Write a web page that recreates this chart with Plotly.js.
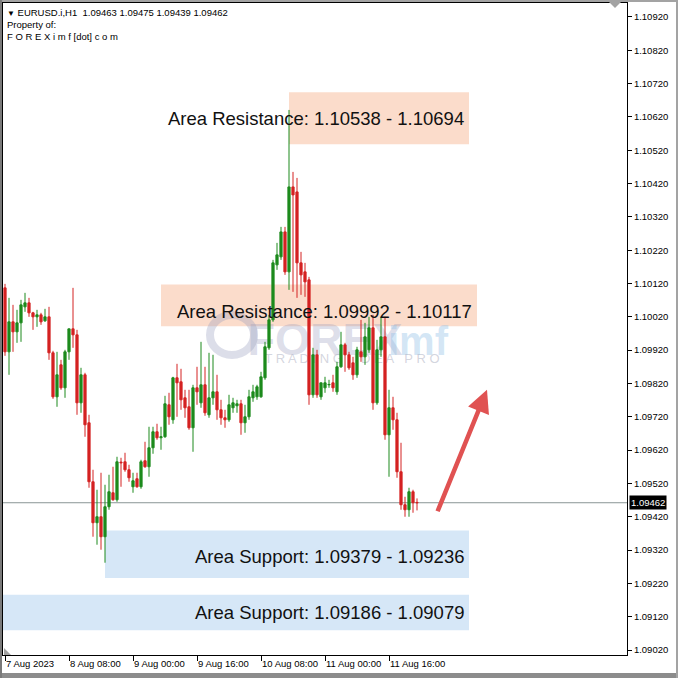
<!DOCTYPE html>
<html><head><meta charset="utf-8">
<script src="https://cdn.plot.ly/plotly-3.0.1.min.js"></script>
<style>html,body{margin:0;padding:0;background:#fff;}#chart{width:678px;height:678px;}</style>
</head><body><div id="chart"></div>
<script>
// ---- data (EURUSD.i, H1) ----
const startTime = '2023-08-07 16:00';
const openP = [1.10107,1.09915,1.10005,1.09975,1.10002,1.10050,1.10062,1.10032,1.10020,1.10026,
1.10008,1.10020,1.09912,1.09780,1.09876,1.09807,1.09915,1.09984,1.09966,1.09762,
1.09846,1.09702,1.09525,1.09402,1.09420,1.09360,1.09450,1.09492,1.09471,1.09584,
1.09585,1.09561,1.09510,1.09534,1.09510,1.09588,1.09570,1.09627,1.09675,1.09657,
1.09660,1.09756,1.09711,1.09837,1.09825,1.09777,1.09750,1.09687,1.09807,1.09762,
1.09816,1.09726,1.09777,1.09795,1.09741,1.09717,1.09711,1.09747,1.09753,1.09759,
1.09702,1.09720,1.09777,1.09780,1.09780,1.09837,1.09927,1.10011,1.10176,1.10200,
1.10275,1.10155,1.10410,1.10395,1.10182,1.10155,1.10131,1.09786,1.09906,1.09780,
1.09807,1.09816,1.09822,1.09795,1.09870,1.09936,1.09906,1.09882,1.09846,1.09915,
1.09900,1.09921,1.09987,1.09762,1.09921,1.09960,1.09666,1.09747,1.09711,1.09555,
1.09456,1.09441,1.09495,1.09463];
const highP = [1.10119,1.10077,1.10056,1.10041,1.10071,1.10092,1.10077,1.10035,1.10041,1.10032,
1.10044,1.10050,1.09918,1.09915,1.09891,1.09921,1.09984,1.10107,1.09981,1.09867,
1.09852,1.09726,1.09561,1.09501,1.09552,1.09516,1.09546,1.09570,1.09600,1.09597,
1.09612,1.09576,1.09552,1.09552,1.09591,1.09645,1.09690,1.09690,1.09699,1.09690,
1.09783,1.09792,1.09840,1.09879,1.09864,1.09801,1.09801,1.09816,1.09870,1.09945,
1.09870,1.09912,1.09906,1.09846,1.09771,1.09741,1.09786,1.09777,1.09771,1.09771,
1.09756,1.09801,1.09816,1.09816,1.09855,1.09945,1.10026,1.10191,1.10242,1.10290,
1.10290,1.10641,1.10455,1.10437,1.10215,1.10182,1.10140,1.09927,1.09921,1.09822,
1.09840,1.09831,1.09846,1.09885,1.09975,1.09942,1.09915,1.09900,1.09930,1.10011,
1.10002,1.10020,1.10026,1.09951,1.10020,1.10020,1.09801,1.09780,1.09732,1.09642,
1.09480,1.09507,1.09501,1.09475];
const lowP = [1.09903,1.09846,1.09915,1.09942,1.09945,1.10035,1.10020,1.09981,1.09990,1.09996,
1.10005,1.09891,1.09774,1.09750,1.09801,1.09777,1.09891,1.09927,1.09726,1.09732,
1.09660,1.09507,1.09360,1.09336,1.09321,1.09282,1.09441,1.09468,1.09465,1.09510,
1.09555,1.09525,1.09492,1.09507,1.09504,1.09567,1.09540,1.09609,1.09651,1.09621,
1.09657,1.09696,1.09699,1.09720,1.09741,1.09717,1.09681,1.09615,1.09756,1.09747,
1.09723,1.09717,1.09756,1.09711,1.09696,1.09687,1.09705,1.09732,1.09732,1.09666,
1.09672,1.09711,1.09765,1.09771,1.09777,1.09831,1.09921,1.10005,1.10161,1.10191,
1.10146,1.10101,1.10095,1.10077,1.10086,1.10080,1.09756,1.09777,1.09777,1.09771,
1.09792,1.09807,1.09795,1.09786,1.09867,1.09855,1.09861,1.09831,1.09837,1.09885,
1.09876,1.09912,1.09741,1.09756,1.09900,1.09651,1.09540,1.09681,1.09537,1.09441,
1.09420,1.09420,1.09432,1.09439];
const closeP = [1.09915,1.10005,1.09975,1.10002,1.10056,1.10062,1.10032,1.10020,1.10026,1.10005,
1.10020,1.09912,1.09780,1.09846,1.09807,1.09915,1.09984,1.09966,1.09762,1.09846,
1.09696,1.09525,1.09402,1.09420,1.09360,1.09450,1.09495,1.09471,1.09585,1.09582,
1.09561,1.09537,1.09528,1.09510,1.09585,1.09570,1.09627,1.09675,1.09657,1.09660,
1.09759,1.09720,1.09837,1.09822,1.09771,1.09747,1.09687,1.09807,1.09795,1.09816,
1.09732,1.09777,1.09795,1.09741,1.09717,1.09711,1.09756,1.09762,1.09759,1.09702,
1.09720,1.09780,1.09795,1.09810,1.09840,1.09930,1.10011,1.10182,1.10206,1.10275,
1.10155,1.10410,1.10386,1.10182,1.10146,1.10125,1.09786,1.09906,1.09786,1.09822,
1.09822,1.09817,1.09807,1.09870,1.09936,1.09906,1.09867,1.09846,1.09921,1.09900,
1.09960,1.09987,1.09762,1.09921,1.09960,1.09666,1.09747,1.09711,1.09555,1.09456,
1.09441,1.09495,1.09462,1.09462];
const tickTimes = ['2023-08-07 16:00','2023-08-08 08:00','2023-08-09 00:00','2023-08-09 16:00','2023-08-10 08:00','2023-08-11 00:00','2023-08-11 16:00'];
const tickText = ['7 Aug 2023','8 Aug 08:00','9 Aug 00:00','9 Aug 16:00','10 Aug 08:00','11 Aug 00:00','11 Aug 16:00'];
const zoneLow = [1.10538, 1.09992, 1.09236, 1.09079];
const zoneHigh = [1.10694, 1.10117, 1.09379, 1.09186];
const zoneText = ['Area Resistance: 1.10538 - 1.10694','Area Resistance: 1.09992 - 1.10117','Area Support: 1.09379 - 1.09236','Area Support: 1.09186 - 1.09079'];
const zoneKind = ['res','res','sup','sup'];
const lastQuote = {open:1.09463, high:1.09475, low:1.09439, close:1.09462};
const symbolName = 'EURUSD.i,H1';

// ---- hourly timestamps for the bars ----
function fmt(d){const p=n=>String(n).padStart(2,'0');return d.getUTCFullYear()+'-'+p(d.getUTCMonth()+1)+'-'+p(d.getUTCDate())+' '+p(d.getUTCHours())+':'+p(d.getUTCMinutes());}
const t0 = Date.UTC(2023,7,7,16,0);
const times = openP.map((_,i)=>fmt(new Date(t0 + i*3600000)));

// ---- layout geometry (plot area px: x 3..627, y 3..655) ----
const PX = px => (px-3)/624, PY = py => (655-py)/652;
const zoneX0 = [PX(289), PX(161), PX(105), 0];
const zoneX1 = [PX(469), PX(477), PX(469), PX(469)];
const zoneTextX = [PX(466), PX(474), PX(466), PX(466)];
const zoneTextShift = [0, -6, -2, 0];
const zoneFill = {res:'#fbdccb', sup:'#d6e7f7'};

const shapes = [];
const annotations = [];
zoneLow.forEach((lo,i)=>{
  shapes.push({type:'rect', xref:'paper', yref:'y', x0:zoneX0[i], x1:zoneX1[i], y0:lo, y1:zoneHigh[i],
    fillcolor:zoneFill[zoneKind[i]], line:{width:0}, layer:'below'});
  annotations.push({xref:'paper', yref:'y', x:zoneTextX[i], y:(lo+zoneHigh[i])/2, yshift:zoneTextShift[i],
    xanchor:'right', yanchor:'middle', showarrow:false, text:zoneText[i],
    font:{family:'Liberation Sans, Arial, sans-serif', size:18.5, color:'#111'}});
});
// watermark (between rects and candles)
const wm = 'rgba(150,155,188,0.33)';
shapes.push({type:'circle', xref:'paper', yref:'paper', x0:PX(210), x1:PX(254), y0:PY(355), y1:PY(315),
  line:{color:wm, width:8}, fillcolor:'rgba(0,0,0,0)', layer:'between'});
shapes.push({type:'rect', xref:'paper', yref:'paper', x0:PX(254), x1:PX(396), y0:PY(356), y1:PY(314),
  line:{width:0}, fillcolor:'rgba(0,0,0,0)', layer:'between',
  label:{text:'FOREX', textposition:'middle center', font:{family:'Liberation Sans, Arial', size:45, color:wm, weight:'bold'}}});
shapes.push({type:'rect', xref:'paper', yref:'paper', x0:PX(392), x1:PX(444), y0:PY(356), y1:PY(318),
  line:{width:0}, fillcolor:'rgba(0,0,0,0)', layer:'between',
  label:{text:'imf', textposition:'middle center', font:{family:'Liberation Sans, Arial', size:40, color:'rgba(150,195,232,0.42)', weight:'bold'}}});
shapes.push({type:'rect', xref:'paper', yref:'paper', x0:PX(260), x1:PX(444), y0:PY(366), y1:PY(348),
  line:{width:0}, fillcolor:'rgba(0,0,0,0)', layer:'between',
  label:{text:'T R A D I N G   I D E A   P R O', textposition:'middle center', font:{family:'Liberation Sans, Arial', size:13, color:'rgba(175,178,195,0.55)'}}});
// current price line
shapes.push({type:'line', xref:'paper', yref:'y', x0:0, x1:1, y0:lastQuote.close, y1:lastQuote.close,
  line:{color:'#8a9696', width:1}, layer:'between'});
// frame & markers
const grey = '#a3a3a3';
shapes.push({type:'rect', xref:'paper', yref:'paper', x0:-0.01, x1:1.09, y0:PY(2), y1:PY(-1), fillcolor:grey, line:{width:0}, layer:'above'});
shapes.push({type:'rect', xref:'paper', yref:'paper', x0:-0.01, x1:1.09, y0:PY(680), y1:PY(673), fillcolor:'#8c8c8c', line:{width:0}, layer:'above'});
shapes.push({type:'rect', xref:'paper', yref:'paper', x0:PX(-1), x1:PX(2), y0:-0.05, y1:1.01, fillcolor:'#7a7a7a', line:{width:0}, layer:'above'});
shapes.push({type:'rect', xref:'paper', yref:'paper', x0:PX(676), x1:PX(680), y0:-0.05, y1:1.01, fillcolor:grey, line:{width:0}, layer:'above'});
shapes.push({type:'path', xref:'paper', yref:'paper', path:`M ${PX(608)},${PY(1)} L ${PX(622)},${PY(1)} L ${PX(615)},${PY(8)} Z`, fillcolor:grey, line:{width:0}, layer:'above'});
shapes.push({type:'path', xref:'paper', yref:'paper', path:`M ${PX(4)},${PY(648)} L ${PX(4)},${PY(655)} L ${PX(11)},${PY(655)} Z`, fillcolor:grey, line:{width:0}, layer:'above'});

// header texts
const hf = {family:'Liberation Sans, Arial, sans-serif', size:9.5, color:'#000'};
annotations.push({xref:'paper', yref:'paper', x:PX(5), y:PY(12), xanchor:'left', yanchor:'middle', showarrow:false, font:hf,
  text:'<span style="font-size:8px">▼</span> '+symbolName+'  '+[lastQuote.open,lastQuote.high,lastQuote.low,lastQuote.close].map(v=>v.toFixed(5)).join(' ')});
annotations.push({xref:'paper', yref:'paper', x:PX(5), y:PY(24), xanchor:'left', yanchor:'middle', showarrow:false, font:hf, text:'Property of:'});
annotations.push({xref:'paper', yref:'paper', x:PX(5), y:PY(36), xanchor:'left', yanchor:'middle', showarrow:false, font:hf, text:'F O R E X i m f [dot] c o m'});
// price label
annotations.push({xref:'paper', yref:'y', x:1, y:lastQuote.close, xanchor:'left', yanchor:'middle', xshift:2, showarrow:false,
  text:lastQuote.close.toFixed(5), bgcolor:'#000', borderpad:1, font:{family:'Liberation Sans, Arial', size:9.5, color:'#fff'}});
// red arrow
annotations.push({xref:'x', yref:'y', axref:'x', ayref:'y', x:'2023-08-12 16:30', y:1.09801, ax:'2023-08-12 04:00', ay:1.09432,
  text:'', showarrow:true, arrowhead:2, arrowsize:1, arrowwidth:4.5, arrowcolor:'#e05252', standoff:0, startstandoff:0});

const trace = {
  type:'candlestick', x:times, open:openP, high:highP, low:lowP, close:closeP,
  increasing:{line:{color:'#1d8a1d', width:1}, fillcolor:'#1d8a1d'},
  decreasing:{line:{color:'#d42222', width:1}, fillcolor:'#d42222'},
  whiskerwidth:0, hoverinfo:'skip', showlegend:false
};

const axFont = {family:'Liberation Sans, Arial, sans-serif', size:9.5, color:'#000'};
const layout = {
  width:678, height:678,
  margin:{l:3, r:51, t:3, b:23, pad:0},
  paper_bgcolor:'#fff', plot_bgcolor:'#fff',
  showlegend:false, boxgap:0.45, boxgroupgap:0,
  xaxis:{type:'date', range:['2023-08-07 15:30','2023-08-14 03:30'], rangeslider:{visible:false},
    tickmode:'array', tickvals:tickTimes, ticktext:tickText, ticklabelposition:'outside right', tickangle:0,
    showgrid:false, zeroline:false, showline:true, mirror:true, linecolor:'#000', linewidth:1,
    ticks:'outside', ticklen:5, tickcolor:'#000', tickwidth:1, tickfont:axFont, fixedrange:true},
  yaxis:{side:'right', range:[1.09005, 1.10962], tick0:1.0902, dtick:0.001, tickformat:'.5f',
    showgrid:false, zeroline:false, showline:true, mirror:true, linecolor:'#000', linewidth:1,
    ticks:'outside', ticklen:4, tickcolor:'#000', tickwidth:1, tickfont:axFont, fixedrange:true},
  shapes:shapes, annotations:annotations
};
Plotly.newPlot('chart', [trace], layout, {staticPlot:true, displayModeBar:false});
</script>
</body></html>
